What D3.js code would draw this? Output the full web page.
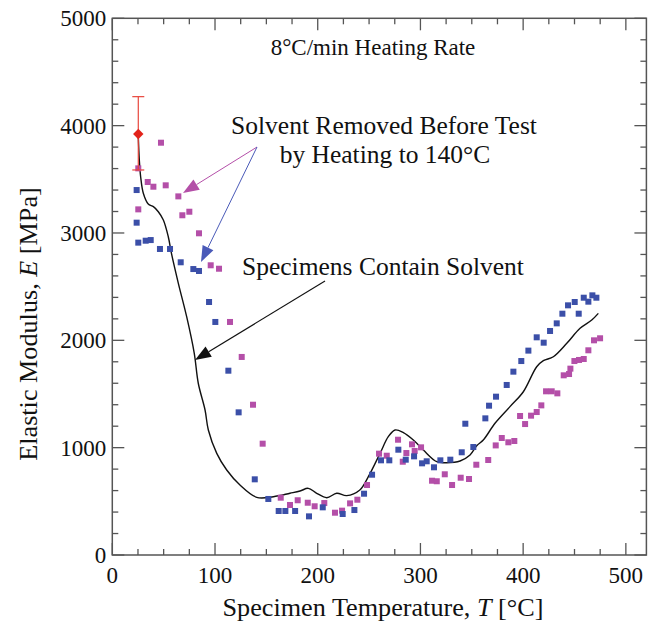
<!DOCTYPE html>
<html><head><meta charset="utf-8">
<script src="https://cdn.jsdelivr.net/npm/d3@7"></script>
<style>
body{margin:0;background:#fff;}
svg text{font-family:"Liberation Serif","DejaVu Serif",serif;fill:#111;}
</style></head>
<body><svg id="c" width="657" height="626"></svg>
<script>
// ---- data ----
const xTicks = [0,100,200,300,400,500];
const yTicks = [0,1000,2000,3000,4000,5000];

const blueT = [23.7,23.7,25.3,32.5,37.4,46.4,56.2,66.6,78.9,84.4,94.2,100.3,113,123,138.7,151.9,162,168.5,178,191.5,204.9,224.3,235.7,245.1,252.9,261.6,269.7,278.5,285.7,293.8,301.6,306.1,313.2,319.4,329.1,340.2,343.7,351.5,363.2,366.8,373.6,384,390.5,398.2,405.1,413.2,420,426.2,432.7,438.2,443.7,450.2,454.1,459,463.5,467.4,471.3];
const blueE = [3400,3096,2910,2928,2934,2851,2851,2727,2664,2646,2357,2171,1717,1329,705,522,410,410,410,360,444,382,419,571,748,882,882,981,888,919,854,873,817,882,888,957,1223,1006,1273,1391,1475,1584,1708,1807,1904,2028,1978,2087,2158,2248,2326,2357,2248,2397,2360,2419,2397];

const magT = [25.3,25.3,34.5,40,47.4,52,64.3,68.2,75,84.4,95.8,103.9,114.6,126,137,146.4,164,173,180.5,190.3,197,206.4,216.8,223.7,231.5,238.6,248,259.7,267.2,278.2,282.8,286.3,291.8,294.4,300.6,311.3,315.9,323.7,330.8,339.2,347.3,354.4,366,373.3,379.2,385.6,391.4,397,401.9,407.7,413.2,417.7,422.3,427.8,433.3,439.5,444.7,446,449.9,454.4,459,463.5,469,474.9];
const magE = [3602,3220,3475,3431,3841,3444,3341,3165,3198,2997,2699,2667,2171,1845,1400,1037,534,466,510,487,454,484,394,413,481,515,652,944,925,1074,869,950,1031,969,1003,692,687,752,652,720,708,841,885,1021,1090,1050,1062,1295,1220,1298,1332,1394,1525,1525,1506,1674,1686,1736,1807,1817,1826,1907,2000,2019];

const curveT = [25.3,26.3,27.6,30.2,35,40,44.8,49.7,54.5,57.8,64.3,72.4,79.8,83.7,90.3,93.5,101.7,111.4,124.3,140.6,156.8,173,182.8,190.8,199,208.8,218.5,228.2,241,249.3,260.7,268.7,275.3,283.4,293.1,302.8,315.9,325.6,338.6,348.3,355,361.2,372.6,387.2,400.2,413.2,419.7,429.4,442.5,455.4,466.8,473.2];
const curveE = [3900,3680,3524,3370,3270,3245,3198,3121,2965,2800,2531,2220,1879,1600,1351,1165,947,792,652,537,543,575,596,621,575,534,575,553,606,730,947,1102,1165,1140,1071,978,869,860,876,932,1020,1071,1227,1382,1521,1754,1810,1847,1972,2112,2189,2251];

const refT = [25.3];
const refE = [3922];
const refLow = [3587];
const refHigh = [4270];

// ---- layout ----
const svg = d3.select("#c");
const L=112.3, R=646.4, T=18.3, B=555;
const x = d3.scaleLinear().domain([0,520]).range([L,R]);
const y = d3.scaleLinear().domain([0,5000]).range([B,T]);
const axCol = "#555";
const fs = 23, fsBig = 25.5, fsTitle = 26.2;

// frame
svg.append("rect").attr("x",L).attr("y",T).attr("width",R-L).attr("height",B-T)
  .attr("fill","none").attr("stroke",axCol).attr("stroke-width",1.5);

// ticks
const xMinor = d3.range(0,521,25);
const yMinor = d3.range(0,5001,200);
const tk = svg.append("g").attr("stroke",axCol).attr("stroke-width",1.3);
xMinor.forEach(v=>{
  const len = (v%100===0)?12:6;
  tk.append("line").attr("x1",x(v)).attr("x2",x(v)).attr("y1",B).attr("y2",B-len);
  tk.append("line").attr("x1",x(v)).attr("x2",x(v)).attr("y1",T).attr("y2",T+len);
});
yMinor.forEach(v=>{
  const len = (v%1000===0)?12:6;
  tk.append("line").attr("y1",y(v)).attr("y2",y(v)).attr("x1",L).attr("x2",L+len);
  tk.append("line").attr("y1",y(v)).attr("y2",y(v)).attr("x1",R).attr("x2",R-len);
});
xTicks.forEach(v=>{
  svg.append("text").attr("x",x(v)).attr("y",B+28).attr("text-anchor","middle")
    .attr("font-size",fs).text(v);
});
yTicks.forEach(v=>{
  svg.append("text").attr("x",L-6).attr("y",y(v)+8).attr("text-anchor","end")
    .attr("font-size",fs).text(v);
});

// axis titles
const xt = svg.append("text").attr("x",383).attr("y",616).attr("text-anchor","middle").attr("font-size",fsTitle);
xt.append("tspan").text("Specimen Temperature, ");
xt.append("tspan").attr("font-style","italic").text("T");
xt.append("tspan").text(" [°C]");
const yt = svg.append("text").attr("transform","translate(37,324) rotate(-90)")
  .attr("text-anchor","middle").attr("font-size",fsTitle);
yt.append("tspan").text("Elastic Modulus, ");
yt.append("tspan").attr("font-style","italic").text("E");
yt.append("tspan").text(" [MPa]");

// curve
const line = d3.line().x((d,i)=>x(curveT[i])).y((d,i)=>y(curveE[i])).curve(d3.curveCatmullRom.alpha(0.5));
svg.append("path").attr("d",line(curveT)).attr("fill","none").attr("stroke","#111").attr("stroke-width",1.4);

// points
const sz = 6;
const drawPts = (ts,es,col)=>{
  svg.append("g").selectAll("rect").data(ts).join("rect")
    .attr("x",(d,i)=>x(ts[i])-sz/2).attr("y",(d,i)=>y(es[i])-sz/2)
    .attr("width",sz).attr("height",sz).attr("fill",col);
};
drawPts(magT,magE,"#b44fa8");
drawPts(blueT,blueE,"#3b4fa8");

// reference point with error bar
refT.forEach((t,i)=>{
  const g = svg.append("g").attr("stroke","#e8463c").attr("stroke-width",1.2);
  g.append("line").attr("x1",x(t)).attr("x2",x(t)).attr("y1",y(refLow[i])).attr("y2",y(refHigh[i]));
  g.append("line").attr("x1",x(t)-6).attr("x2",x(t)+6).attr("y1",y(refLow[i])).attr("y2",y(refLow[i]));
  g.append("line").attr("x1",x(t)-6).attr("x2",x(t)+6).attr("y1",y(refHigh[i])).attr("y2",y(refHigh[i]));
  svg.append("path").attr("d",d3.symbol(d3.symbolDiamond2,70)())
    .attr("transform",`translate(${x(t)},${y(refE[i])})`).attr("fill","#e2231a");
});

// annotations
const ann = (txt,cx,by,f)=>svg.append("text").attr("x",cx).attr("y",by).attr("text-anchor","middle").attr("font-size",f).text(txt);
ann("8°C/min Heating Rate",373,55,fs);
ann("Solvent Removed Before Test",384,134,fsBig);
ann("by Heating to 140°C",385,163,fsBig);
ann("Specimens Contain Solvent",383,275,fsBig);

const arrow=(x1,y1,x2,y2,col,w)=>{
  const a=Math.atan2(y2-y1,x2-x1), hl=16, hw=6;
  const bx=x2-hl*Math.cos(a), by=y2-hl*Math.sin(a);
  svg.append("line").attr("x1",x1).attr("y1",y1).attr("x2",bx).attr("y2",by).attr("stroke",col).attr("stroke-width",w);
  const px=-Math.sin(a), py=Math.cos(a);
  svg.append("path").attr("d",`M${x2},${y2}L${bx+px*hw},${by+py*hw}L${bx-px*hw},${by-py*hw}Z`).attr("fill",col);
};
arrow(257,147,183,193,"#b44fa8",1);
arrow(257,147,201,262,"#4a5ab8",1);
arrow(325,281,195,360,"#111",1.2);
</script></body></html>
